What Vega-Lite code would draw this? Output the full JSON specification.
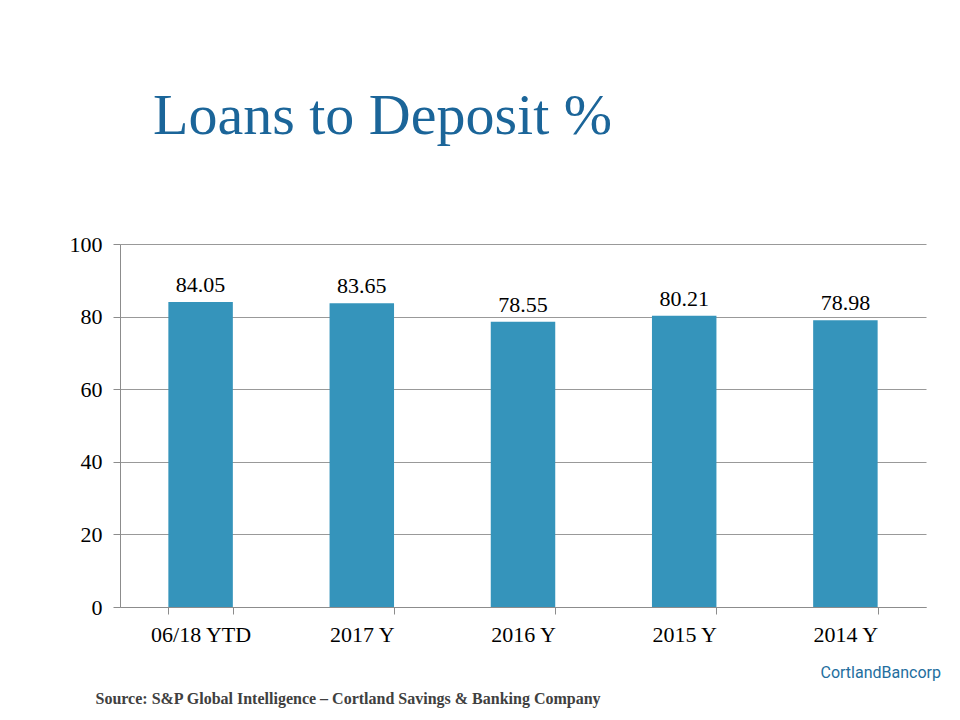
{
  "$schema": "https://vega.github.io/schema/vega-lite/v6.json",
  "autosize": {"type": "none"},
  "width": 806,
  "height": 363,
  "padding": {"left": 120, "top": 244, "right": 34, "bottom": 113},
  "background": "white",
  "title": {
    "text": "Loans to Deposit %",
    "anchor": "start",
    "frame": "group",
    "dx": 33,
    "offset": 41,
    "baseline": "alphabetic",
    "font": "Liberation Serif",
    "fontSize": 58,
    "fontWeight": "normal",
    "color": "#1B6599"
  },
  "config": {
    "view": {"stroke": null},
    "font": "Liberation Serif"
  },
  "data": {
    "values": [
      {"period": "06/18 YTD", "ratio": 84.05},
      {"period": "2017 Y", "ratio": 83.65},
      {"period": "2016 Y", "ratio": 78.55},
      {"period": "2015 Y", "ratio": 80.21},
      {"period": "2014 Y", "ratio": 78.98}
    ]
  },
  "encoding": {
    "x": {
      "field": "period",
      "type": "nominal",
      "sort": null,
      "scale": {"paddingInner": 0.6, "paddingOuter": 0.3},
      "axis": {
        "title": "Source: S&P Global Intelligence – Cortland Savings & Banking Company",
        "titleFont": "Liberation Serif",
        "titleFontSize": 16,
        "titleFontWeight": "bold",
        "titleColor": "#404040",
        "titleAnchor": "start",
        "titleAlign": "left",
        "titleBaseline": "alphabetic",
        "titleX": -25,
        "titleY": 96,
        "labelAngle": 0,
        "labelFont": "Liberation Serif",
        "labelFontSize": 22,
        "labelColor": "#000000",
        "labelPadding": 10,
        "tickBand": "extent",
        "tickSize": 7,
        "tickColor": "#8C8C8C",
        "domainColor": "#8C8C8C",
        "grid": false
      }
    }
  },
  "layer": [
    {
      "mark": {"type": "bar", "color": "#3594BB"},
      "encoding": {
        "y": {
          "field": "ratio",
          "type": "quantitative",
          "scale": {"domain": [0, 100]},
          "axis": {
            "values": [0, 20, 40, 60, 80, 100],
            "title": "CortlandBancorp",
            "titleFont": "Roboto",
            "titleFontSize": 16,
            "titleFontWeight": "normal",
            "titleColor": "#236E9E",
            "titleAngle": 0,
            "titleAlign": "left",
            "titleBaseline": "middle",
            "titleX": 700,
            "titleY": 428,
            "labelFont": "Liberation Serif",
            "labelFontSize": 22,
            "labelColor": "#000000",
            "labelPadding": 11,
            "tickSize": 7,
            "tickColor": "#8C8C8C",
            "domainColor": "#8C8C8C",
            "gridColor": "#999999",
            "grid": true
          }
        }
      }
    },
    {
      "mark": {
        "type": "text",
        "baseline": "alphabetic",
        "dy": -10,
        "font": "Liberation Serif",
        "fontSize": 22,
        "color": "#000000"
      },
      "encoding": {
        "y": {"field": "ratio", "type": "quantitative"},
        "text": {"field": "ratio", "type": "quantitative", "format": ".2f"}
      }
    }
  ]
}
